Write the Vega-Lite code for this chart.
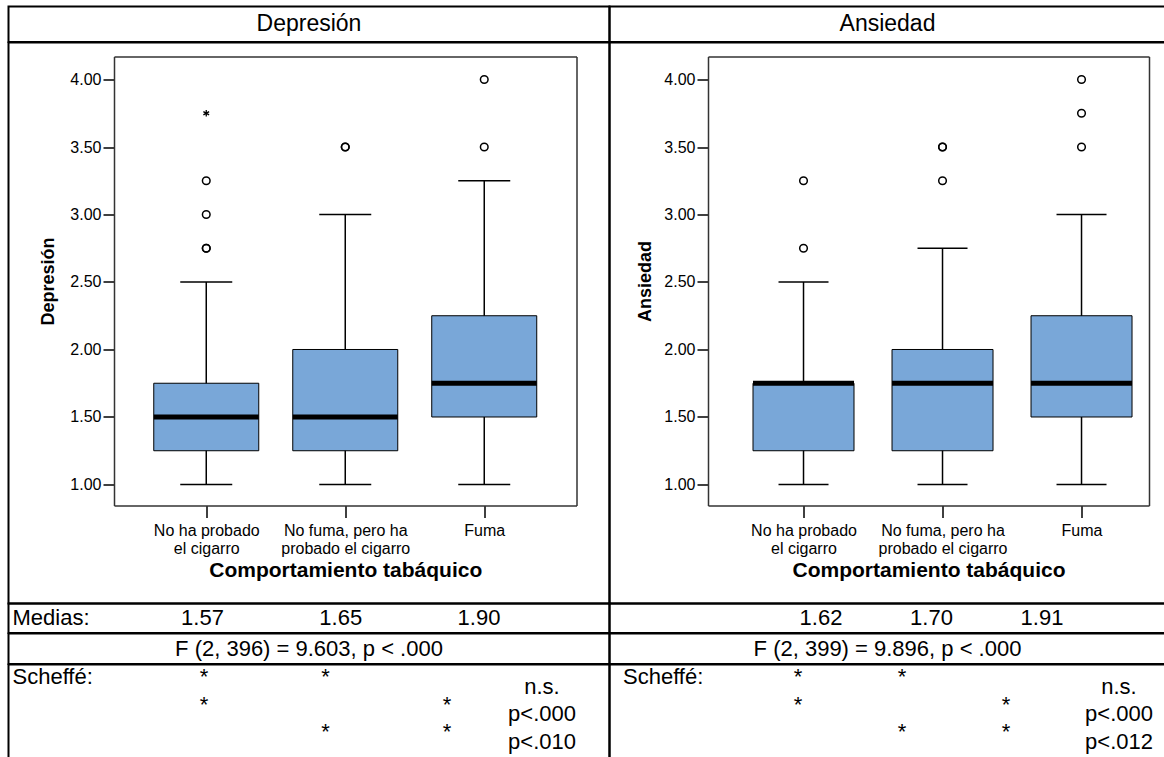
{
  "$schema": "https://vega.github.io/schema/vega-lite/v6.json",
  "padding": {"left": 7.5, "top": 5.5, "right": 0, "bottom": 0},
  "background": "white",
  "bounds": "flush",
  "align": "each",
  "spacing": 0,
  "columns": 2,
  "config": {
    "font": "Liberation Sans",
    "view": {"stroke": "black", "strokeWidth": 2},
    "concat": {"spacing": 0},
    "axis": {"labelFont": "Liberation Sans", "titleFont": "Liberation Sans", "labelColor": "black", "titleColor": "black", "tickColor": "black", "domainColor": "#333333", "grid": false},
    "text": {"font": "Liberation Sans", "color": "black"}
  },
  "datasets": {
    "boxDep": [
      {"group": "No ha probado el cigarro", "lower": 1.0, "q1": 1.25, "median": 1.5, "q3": 1.75, "upper": 2.5},
      {"group": "No fuma, pero ha probado el cigarro", "lower": 1.0, "q1": 1.25, "median": 1.5, "q3": 2.0, "upper": 3.0},
      {"group": "Fuma", "lower": 1.0, "q1": 1.5, "median": 1.75, "q3": 2.25, "upper": 3.25}
    ],
    "outDep": [
      {"group": "No ha probado el cigarro", "value": 2.75, "kind": "o"},
      {"group": "No ha probado el cigarro", "value": 2.75, "kind": "o"},
      {"group": "No ha probado el cigarro", "value": 3.0, "kind": "o"},
      {"group": "No ha probado el cigarro", "value": 3.25, "kind": "o"},
      {"group": "No ha probado el cigarro", "value": 3.75, "kind": "e"},
      {"group": "No fuma, pero ha probado el cigarro", "value": 3.5, "kind": "o"},
      {"group": "No fuma, pero ha probado el cigarro", "value": 3.5, "kind": "o"},
      {"group": "Fuma", "value": 3.5, "kind": "o"},
      {"group": "Fuma", "value": 4.0, "kind": "o"}
    ],
    "boxAns": [
      {"group": "No ha probado el cigarro", "lower": 1.0, "q1": 1.25, "median": 1.75, "q3": 1.75, "upper": 2.5},
      {"group": "No fuma, pero ha probado el cigarro", "lower": 1.0, "q1": 1.25, "median": 1.75, "q3": 2.0, "upper": 2.75},
      {"group": "Fuma", "lower": 1.0, "q1": 1.5, "median": 1.75, "q3": 2.25, "upper": 3.0}
    ],
    "outAns": [
      {"group": "No ha probado el cigarro", "value": 2.75, "kind": "o"},
      {"group": "No ha probado el cigarro", "value": 3.25, "kind": "o"},
      {"group": "No fuma, pero ha probado el cigarro", "value": 3.25, "kind": "o"},
      {"group": "No fuma, pero ha probado el cigarro", "value": 3.5, "kind": "o"},
      {"group": "No fuma, pero ha probado el cigarro", "value": 3.5, "kind": "o"},
      {"group": "Fuma", "value": 3.5, "kind": "o"},
      {"group": "Fuma", "value": 3.75, "kind": "o"},
      {"group": "Fuma", "value": 4.0, "kind": "o"}
    ],
    "medDep": [
      {"group": "g1", "mean": 1.57},
      {"group": "g2", "mean": 1.65},
      {"group": "g3", "mean": 1.90}
    ],
    "medAns": [
      {"group": "g1", "mean": 1.62},
      {"group": "g2", "mean": 1.70},
      {"group": "g3", "mean": 1.91}
    ],
    "stars": [
      {"row": 1, "group": "g1", "s": "*"},
      {"row": 1, "group": "g2", "s": "*"},
      {"row": 2, "group": "g1", "s": "*"},
      {"row": 2, "group": "g3", "s": "*"},
      {"row": 3, "group": "g2", "s": "*"},
      {"row": 3, "group": "g3", "s": "*"}
    ],
    "pDep": [
      {"row": 1, "p": "n.s."},
      {"row": 2, "p": "p<.000"},
      {"row": 3, "p": "p<.010"}
    ],
    "pAns": [
      {"row": 1, "p": "n.s."},
      {"row": 2, "p": "p<.000"},
      {"row": 3, "p": "p<.012"}
    ]
  },
  "concat": [
    {
      "width": 601, "height": 35.5,
      "data": {"values": [{"t": "Depresión"}]},
      "mark": {"type": "text", "fontSize": 23, "baseline": "middle"},
      "encoding": {"x": {"field": "t", "type": "nominal", "axis": null}, "text": {"field": "t"}}
    },
    {
      "width": 556, "height": 35.5,
      "data": {"values": [{"t": "Ansiedad"}]},
      "mark": {"type": "text", "fontSize": 23, "baseline": "middle"},
      "encoding": {"x": {"field": "t", "type": "nominal", "axis": null}, "text": {"field": "t"}}
    },
    {
      "width": 601, "height": 561,
      "resolve": {"axis": {"x": "independent", "y": "independent"}},
      "layer": [
        {
          "data": {"name": "boxDep"},
          "mark": {"type": "rule", "color": "black", "strokeWidth": 1.5},
          "encoding": {
            "x": {"field": "group", "type": "nominal", "sort": null,
              "scale": {"type": "point", "domain": ["No ha probado el cigarro", "No fuma, pero ha probado el cigarro", "Fuma"], "range": [105.5, 568], "padding": 0.6637},
              "axis": {"orient": "bottom", "offset": -98, "title": "Comportamiento tabáquico", "labelAngle": 0, "tickSize": 12, "tickWidth": 1.5, "labelPadding": 5, "labelFontSize": 16, "labelLineHeight": 18, "labelBaseline": "top",
                "labelExpr": "datum.value == 'No ha probado el cigarro' ? ['No ha probado', 'el cigarro'] : datum.value == 'No fuma, pero ha probado el cigarro' ? ['No fuma, pero ha', 'probado el cigarro'] : datum.label",
                "titleFontSize": 21, "titleFontWeight": "bold", "titlePadding": 3, "domainWidth": 1.5}},
            "y": {"field": "lower", "type": "quantitative",
              "scale": {"domain": [0.8444, 4.1704], "range": [463, 14], "nice": false, "zero": false},
              "axis": {"orient": "left", "offset": -105.5, "values": [1, 1.5, 2, 2.5, 3, 3.5, 4], "format": ".2f", "title": "Depresión", "tickSize": 11, "tickWidth": 1.5, "labelPadding": 2, "labelFontSize": 16, "titleFontSize": 18, "titleFontWeight": "bold", "titlePadding": 12, "domainWidth": 1.5}},
            "y2": {"field": "upper"}
          }
        },
        {
          "data": {"name": "boxDep"},
          "mark": {"type": "bar", "size": 105, "fill": "#79A7D8", "stroke": "black", "strokeWidth": 1},
          "encoding": {
            "x": {"field": "group", "type": "nominal", "sort": null, "axis": {"orient": "top", "offset": -14, "labels": false, "ticks": false, "title": null, "domainWidth": 1.5}},
            "y": {"field": "q1", "type": "quantitative", "axis": {"orient": "right", "offset": -33, "labels": false, "ticks": false, "title": null, "domainWidth": 1.5}},
            "y2": {"field": "q3"}
          }
        },
        {
          "data": {"name": "boxDep"},
          "mark": {"type": "tick", "orient": "horizontal", "size": 105, "thickness": 5, "color": "black", "opacity": 1},
          "encoding": {
            "x": {"field": "group", "type": "nominal", "sort": null, "axis": null},
            "y": {"field": "median", "type": "quantitative", "axis": null}
          }
        },
        {
          "data": {"name": "boxDep"},
          "mark": {"type": "tick", "orient": "horizontal", "size": 52, "thickness": 1.5, "color": "black", "opacity": 1},
          "encoding": {
            "x": {"field": "group", "type": "nominal", "sort": null, "axis": null},
            "y": {"field": "lower", "type": "quantitative", "axis": null}
          }
        },
        {
          "data": {"name": "boxDep"},
          "mark": {"type": "tick", "orient": "horizontal", "size": 52, "thickness": 1.5, "color": "black", "opacity": 1},
          "encoding": {
            "x": {"field": "group", "type": "nominal", "sort": null, "axis": null},
            "y": {"field": "upper", "type": "quantitative", "axis": null}
          }
        },
        {
          "data": {"name": "outDep"},
          "transform": [{"filter": "datum.kind == 'o'"}],
          "mark": {"type": "point", "shape": "circle", "filled": false, "size": 58, "strokeWidth": 1.5, "color": "black", "opacity": 1},
          "encoding": {
            "x": {"field": "group", "type": "nominal", "sort": null, "axis": null},
            "y": {"field": "value", "type": "quantitative", "axis": null}
          }
        },
        {
          "data": {"name": "outDep"},
          "transform": [{"filter": "datum.kind == 'e'"}],
          "mark": {"type": "point", "shape": "M0,-1L0,1M-0.866,-0.5L0.866,0.5M-0.866,0.5L0.866,-0.5", "filled": false, "size": 44, "strokeWidth": 1.3, "color": "black", "opacity": 1},
          "encoding": {
            "x": {"field": "group", "type": "nominal", "sort": null, "axis": null},
            "y": {"field": "value", "type": "quantitative", "axis": null}
          }
        }
      ]
    },
    {
      "width": 556, "height": 561,
      "resolve": {"axis": {"x": "independent", "y": "independent"}},
      "layer": [
        {
          "data": {"name": "boxAns"},
          "mark": {"type": "rule", "color": "black", "strokeWidth": 1.5},
          "encoding": {
            "x": {"field": "group", "type": "nominal", "sort": null,
              "scale": {"type": "point", "domain": ["No ha probado el cigarro", "No fuma, pero ha probado el cigarro", "Fuma"], "range": [98.5, 539.5], "padding": 0.5863, "align": 0.586},
              "axis": {"orient": "bottom", "offset": -98, "title": "Comportamiento tabáquico", "labelAngle": 0, "tickSize": 12, "tickWidth": 1.5, "labelPadding": 5, "labelFontSize": 16, "labelLineHeight": 18, "labelBaseline": "top",
                "labelExpr": "datum.value == 'No ha probado el cigarro' ? ['No ha probado', 'el cigarro'] : datum.value == 'No fuma, pero ha probado el cigarro' ? ['No fuma, pero ha', 'probado el cigarro'] : datum.label",
                "titleFontSize": 21, "titleFontWeight": "bold", "titlePadding": 3, "domainWidth": 1.5}},
            "y": {"field": "lower", "type": "quantitative",
              "scale": {"domain": [0.8444, 4.1704], "range": [463, 14], "nice": false, "zero": false},
              "axis": {"orient": "left", "offset": -98.5, "values": [1, 1.5, 2, 2.5, 3, 3.5, 4], "format": ".2f", "title": "Ansiedad", "tickSize": 11, "tickWidth": 1.5, "labelPadding": 2, "labelFontSize": 16, "titleFontSize": 18, "titleFontWeight": "bold", "titlePadding": 9, "domainWidth": 1.5}},
            "y2": {"field": "upper"}
          }
        },
        {
          "data": {"name": "boxAns"},
          "mark": {"type": "bar", "size": 101, "fill": "#79A7D8", "stroke": "black", "strokeWidth": 1},
          "encoding": {
            "x": {"field": "group", "type": "nominal", "sort": null, "axis": {"orient": "top", "offset": -14, "labels": false, "ticks": false, "title": null, "domainWidth": 1.5}},
            "y": {"field": "q1", "type": "quantitative", "axis": {"orient": "right", "offset": -16.5, "labels": false, "ticks": false, "title": null, "domainWidth": 1.5}},
            "y2": {"field": "q3"}
          }
        },
        {
          "data": {"name": "boxAns"},
          "mark": {"type": "tick", "orient": "horizontal", "size": 101, "thickness": 5, "color": "black", "opacity": 1},
          "encoding": {
            "x": {"field": "group", "type": "nominal", "sort": null, "axis": null},
            "y": {"field": "median", "type": "quantitative", "axis": null}
          }
        },
        {
          "data": {"name": "boxAns"},
          "mark": {"type": "tick", "orient": "horizontal", "size": 50, "thickness": 1.5, "color": "black", "opacity": 1},
          "encoding": {
            "x": {"field": "group", "type": "nominal", "sort": null, "axis": null},
            "y": {"field": "lower", "type": "quantitative", "axis": null}
          }
        },
        {
          "data": {"name": "boxAns"},
          "mark": {"type": "tick", "orient": "horizontal", "size": 50, "thickness": 1.5, "color": "black", "opacity": 1},
          "encoding": {
            "x": {"field": "group", "type": "nominal", "sort": null, "axis": null},
            "y": {"field": "upper", "type": "quantitative", "axis": null}
          }
        },
        {
          "data": {"name": "outAns"},
          "mark": {"type": "point", "shape": "circle", "filled": false, "size": 58, "strokeWidth": 1.5, "color": "black", "opacity": 1},
          "encoding": {
            "x": {"field": "group", "type": "nominal", "sort": null, "axis": null},
            "y": {"field": "value", "type": "quantitative", "axis": null}
          }
        }
      ]
    },
    {
      "width": 601, "height": 29.5,
      "resolve": {"scale": {"x": "independent"}},
      "layer": [
        {
          "data": {"values": [{"label": "Medias:"}]},
          "mark": {"type": "text", "align": "left", "baseline": "middle", "fontSize": 22},
          "encoding": {
            "x": {"field": "label", "type": "nominal", "scale": {"type": "point", "range": [4, 4]}, "axis": null},
            "text": {"field": "label"}
          }
        },
        {
          "data": {"name": "medDep"},
          "mark": {"type": "text", "baseline": "middle", "fontSize": 22},
          "encoding": {
            "x": {"field": "group", "type": "nominal", "scale": {"type": "point", "domain": ["g1", "g2", "g3"], "range": [194, 470.5], "padding": 0}, "axis": null},
            "text": {"field": "mean", "format": ".2f"}
          }
        }
      ]
    },
    {
      "width": 556, "height": 29.5,
      "data": {"name": "medAns"},
      "mark": {"type": "text", "baseline": "middle", "fontSize": 22},
      "encoding": {
        "x": {"field": "group", "type": "nominal", "scale": {"type": "point", "domain": ["g1", "g2", "g3"], "range": [211.5, 432.5], "padding": 0}, "axis": null},
        "text": {"field": "mean", "format": ".2f"}
      }
    },
    {
      "width": 601, "height": 30.5,
      "data": {"values": [{"t": "F (2, 396) = 9.603, p < .000"}]},
      "mark": {"type": "text", "baseline": "middle", "fontSize": 22},
      "encoding": {"x": {"field": "t", "type": "nominal", "axis": null}, "text": {"field": "t"}}
    },
    {
      "width": 556, "height": 30.5,
      "data": {"values": [{"t": "F (2, 399) = 9.896, p < .000"}]},
      "mark": {"type": "text", "baseline": "middle", "fontSize": 22},
      "encoding": {"x": {"field": "t", "type": "nominal", "axis": null}, "text": {"field": "t"}}
    },
    {
      "width": 601, "height": 100,
      "resolve": {"scale": {"x": "independent"}},
      "layer": [
        {
          "data": {"values": [{"row": 1, "label": "Scheffé:"}]},
          "mark": {"type": "text", "align": "left", "baseline": "alphabetic", "fontSize": 22},
          "encoding": {
            "x": {"field": "label", "type": "nominal", "scale": {"type": "point", "range": [4, 4]}, "axis": null},
            "y": {"field": "row", "type": "ordinal", "scale": {"type": "point", "domain": [1, 2, 3], "range": [19.5, 74.5], "padding": 0}, "axis": null},
            "text": {"field": "label"}
          }
        },
        {
          "data": {"name": "stars"},
          "mark": {"type": "text", "baseline": "alphabetic", "fontSize": 22},
          "encoding": {
            "x": {"field": "group", "type": "nominal", "scale": {"type": "point", "domain": ["g1", "g2", "g3"], "range": [195.5, 438.5], "padding": 0}, "axis": null},
            "y": {"field": "row", "type": "ordinal", "axis": null},
            "text": {"field": "s"}
          }
        },
        {
          "data": {"name": "pDep"},
          "mark": {"type": "text", "baseline": "alphabetic", "dy": 9.5, "fontSize": 22},
          "encoding": {
            "x": {"field": "p", "type": "nominal", "scale": {"type": "point", "range": [533.5, 533.5]}, "axis": null},
            "y": {"field": "row", "type": "ordinal", "axis": null},
            "text": {"field": "p"}
          }
        }
      ]
    },
    {
      "width": 556, "height": 100,
      "resolve": {"scale": {"x": "independent"}},
      "layer": [
        {
          "data": {"values": [{"row": 1, "label": "Scheffé:"}]},
          "mark": {"type": "text", "align": "left", "baseline": "alphabetic", "fontSize": 22},
          "encoding": {
            "x": {"field": "label", "type": "nominal", "scale": {"type": "point", "range": [13.5, 13.5]}, "axis": null},
            "y": {"field": "row", "type": "ordinal", "scale": {"type": "point", "domain": [1, 2, 3], "range": [19.5, 74.5], "padding": 0}, "axis": null},
            "text": {"field": "label"}
          }
        },
        {
          "data": {"name": "stars"},
          "mark": {"type": "text", "baseline": "alphabetic", "fontSize": 22},
          "encoding": {
            "x": {"field": "group", "type": "nominal", "scale": {"type": "point", "domain": ["g1", "g2", "g3"], "range": [188.5, 396.5], "padding": 0}, "axis": null},
            "y": {"field": "row", "type": "ordinal", "axis": null},
            "text": {"field": "s"}
          }
        },
        {
          "data": {"name": "pAns"},
          "mark": {"type": "text", "baseline": "alphabetic", "dy": 9.5, "fontSize": 22},
          "encoding": {
            "x": {"field": "p", "type": "nominal", "scale": {"type": "point", "range": [509.5, 509.5]}, "axis": null},
            "y": {"field": "row", "type": "ordinal", "axis": null},
            "text": {"field": "p"}
          }
        }
      ]
    }
  ]
}
